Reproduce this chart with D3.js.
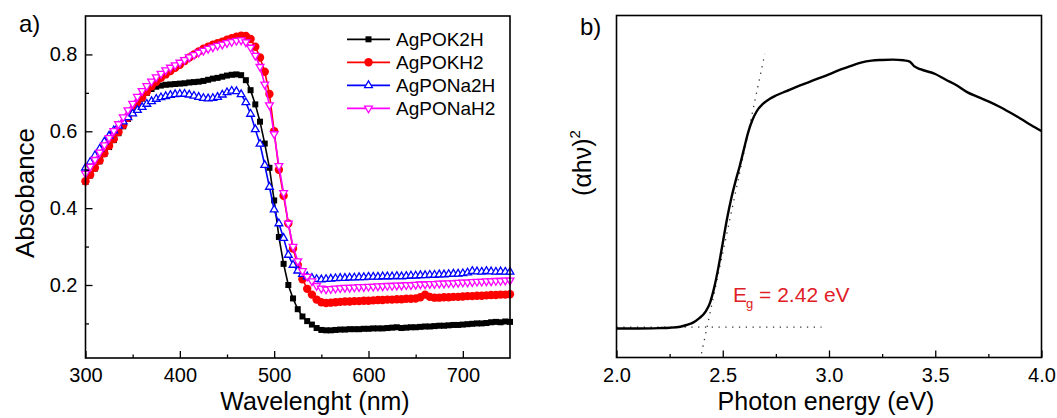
<!DOCTYPE html>
<html lang="en">
<head>
<meta charset="UTF-8">
<title>UV-vis absorbance and Tauc plot</title>
<script src="https://d3js.org/d3.v7.min.js"></script>
<style>
  body { margin: 0; background: #fff; }
  svg { display: block; font-family: "Liberation Sans", Arial, sans-serif; }
</style>
</head>
<body>
<svg width="1057" height="418"></svg>
<script>
// ---- panel a: absorbance spectra ----
const wavelength = [
  300, 305, 310, 315, 320, 325, 330, 335, 340, 345,
  350, 355, 360, 365, 370, 375, 380, 385, 390, 395,
  400, 405, 410, 415, 420, 425, 430, 435, 440, 445,
  450, 455, 460, 465, 470, 475, 480, 485, 490, 495,
  500, 505, 510, 515, 520, 525, 530, 535, 540, 545,
  550, 555, 560, 565, 570, 575, 580, 585, 590, 595,
  600, 605, 610, 615, 620, 625, 630, 635, 640, 645,
  650, 655, 660, 665, 670, 675, 680, 685, 690, 695,
  700, 705, 710, 715, 720, 725, 730, 735, 740, 745,
  750
];
const seriesNames = ['AgPOK2H', 'AgPOKH2', 'AgPONa2H', 'AgPONaH2'];
const agPOK2H = [
  0.468, 0.485, 0.503, 0.522, 0.541, 0.559, 0.577, 0.595, 0.613, 0.632,
  0.650, 0.668, 0.685, 0.700, 0.710, 0.716, 0.719, 0.721, 0.722, 0.723,
  0.724, 0.725, 0.727, 0.728, 0.729, 0.731, 0.734, 0.737, 0.739, 0.742,
  0.745, 0.747, 0.748, 0.746, 0.733, 0.707, 0.670, 0.625, 0.568, 0.505,
  0.420, 0.325, 0.255, 0.200, 0.165, 0.137, 0.118, 0.106, 0.097, 0.088,
  0.083, 0.082, 0.082, 0.083, 0.084, 0.084, 0.085, 0.085, 0.085, 0.086,
  0.086, 0.087, 0.087, 0.087, 0.088, 0.089, 0.090, 0.088, 0.089, 0.090,
  0.090, 0.091, 0.092, 0.092, 0.093, 0.094, 0.094, 0.095, 0.096, 0.096,
  0.097, 0.098, 0.099, 0.100, 0.100, 0.101, 0.103, 0.104, 0.103, 0.105,
  0.104
];
const agPOKH2 = [
  0.470, 0.487, 0.505, 0.524, 0.543, 0.562, 0.580, 0.598, 0.616, 0.635,
  0.653, 0.671, 0.688, 0.703, 0.717, 0.729, 0.739, 0.748, 0.757, 0.765,
  0.773, 0.783, 0.792, 0.800, 0.808, 0.815, 0.820, 0.825, 0.829, 0.833,
  0.838, 0.842, 0.846, 0.849, 0.848, 0.840, 0.820, 0.792, 0.755, 0.697,
  0.600, 0.500, 0.432, 0.360, 0.295, 0.252, 0.215, 0.190, 0.175, 0.162,
  0.155, 0.153, 0.154, 0.155, 0.156, 0.157, 0.157, 0.158, 0.158, 0.159,
  0.159, 0.160, 0.161, 0.161, 0.162, 0.162, 0.163, 0.163, 0.164, 0.164,
  0.165, 0.168, 0.175, 0.169, 0.167, 0.167, 0.168, 0.168, 0.169, 0.169,
  0.170, 0.171, 0.171, 0.172, 0.172, 0.173, 0.174, 0.174, 0.175, 0.175,
  0.176
];
const agPONa2H = [
  0.505, 0.520, 0.537, 0.554, 0.573, 0.588, 0.602, 0.614, 0.625, 0.636,
  0.646, 0.655, 0.663, 0.671, 0.678, 0.684, 0.688, 0.691, 0.694, 0.696,
  0.697, 0.697, 0.695, 0.692, 0.689, 0.686, 0.685, 0.686, 0.689, 0.695,
  0.701, 0.705, 0.704, 0.696, 0.675, 0.645, 0.605, 0.567, 0.512, 0.455,
  0.396, 0.360, 0.322, 0.278, 0.252, 0.237, 0.228, 0.222, 0.218, 0.215,
  0.214, 0.215, 0.216, 0.217, 0.218, 0.218, 0.219, 0.219, 0.220, 0.220,
  0.221, 0.221, 0.221, 0.222, 0.222, 0.222, 0.223, 0.222, 0.223, 0.224,
  0.224, 0.225, 0.225, 0.226, 0.226, 0.227, 0.227, 0.228, 0.229, 0.229,
  0.230, 0.232, 0.236, 0.235, 0.234, 0.236, 0.235, 0.234, 0.235, 0.234,
  0.234
];
const agPONaH2 = [
  0.490, 0.508, 0.526, 0.545, 0.564, 0.583, 0.601, 0.619, 0.637, 0.655,
  0.672, 0.690, 0.705, 0.718, 0.730, 0.741, 0.750, 0.759, 0.766, 0.772,
  0.779, 0.786, 0.793, 0.799, 0.805, 0.810, 0.815, 0.819, 0.823, 0.826,
  0.830, 0.833, 0.836, 0.837, 0.832, 0.818, 0.797, 0.768, 0.722, 0.668,
  0.593, 0.510, 0.440, 0.360, 0.300, 0.262, 0.237, 0.222, 0.210, 0.198,
  0.191, 0.189, 0.190, 0.191, 0.192, 0.193, 0.193, 0.194, 0.195, 0.195,
  0.196, 0.196, 0.197, 0.197, 0.198, 0.198, 0.199, 0.199, 0.200, 0.200,
  0.201, 0.202, 0.202, 0.203, 0.203, 0.204, 0.204, 0.205, 0.205, 0.206,
  0.207, 0.207, 0.208, 0.209, 0.209, 0.210, 0.210, 0.211, 0.211, 0.212,
  0.212
];
const xTicksA = [300, 400, 500, 600, 700];
const xMinorA = [350, 450, 550, 650];
const yTicksA = [0.2, 0.4, 0.6, 0.8];
const yMinorA = [0.1, 0.3, 0.5, 0.7];

// ---- panel b: Tauc plot ----
const photonEnergy = [
  2.00, 2.10, 2.20, 2.25, 2.30, 2.33, 2.36, 2.39, 2.42, 2.44,
  2.46, 2.48, 2.50, 2.52, 2.54, 2.56, 2.58, 2.60, 2.62, 2.64,
  2.66, 2.69, 2.72, 2.75, 2.80, 2.85, 2.90, 2.95, 3.00, 3.05,
  3.10, 3.15, 3.20, 3.25, 3.30, 3.35, 3.38, 3.40, 3.43, 3.50,
  3.55, 3.60, 3.65, 3.70, 3.75, 3.80, 3.85, 3.90, 3.95, 4.00
];
const ahv2 = [
  8.5, 8.5, 8.6, 8.7, 9.0, 9.5, 10.2, 11.5, 13.5, 16.0,
  20.5, 26.5, 33.5, 40.5, 46.5, 51.5, 56.0, 61.0, 65.9, 69.5,
  72.0, 74.2, 75.6, 76.6, 77.9, 79.2, 80.4, 81.6, 82.8, 84.1,
  85.2, 86.2, 86.8, 87.0, 87.1, 86.9, 86.5, 85.2, 84.3, 82.9,
  81.2, 79.6, 77.6, 76.2, 74.9, 73.4, 71.7, 69.9, 68.0, 66.2
];
const tangentX = [2.40, 2.698];
const tangentY = [1.2, 88.8];
const baseX = [2.0, 2.965];
const baseY = [8.9, 8.9];
const xTicksB = [2.0, 2.5, 3.0, 3.5, 4.0];
const xMinorB = [2.25, 2.75, 3.25, 3.75];

const svg = d3.select('svg');

function frameAxes(g, x, y, xt, xm, yt, ym, xfmt) {
  const [x0, x1] = x.range(), [y0, y1] = y.range();
  g.append('g').attr('transform', `translate(0,${y0})`)
    .call(d3.axisBottom(x).tickValues(xt).tickSizeInner(-7).tickSizeOuter(0).tickPadding(10).tickFormat(xfmt))
    .call(a => a.select('.domain').remove())
    .call(a => a.selectAll('text').attr('font-size', 20).attr('font-family', null).attr('fill', '#000'))
    .call(a => a.selectAll('line').attr('stroke', '#000').attr('stroke-width', 1.3));
  g.append('g').attr('transform', `translate(0,${y0})`)
    .call(d3.axisBottom(x).tickValues(xm).tickSizeInner(-3.5).tickSizeOuter(0).tickFormat(''))
    .call(a => a.select('.domain').remove())
    .call(a => a.selectAll('line').attr('stroke', '#000').attr('stroke-width', 1.3));
  if (yt) {
    g.append('g').attr('transform', `translate(${x0},0)`)
      .call(d3.axisLeft(y).tickValues(yt).tickSizeInner(-7).tickSizeOuter(0).tickPadding(8).tickFormat(d3.format('.1f')))
      .call(a => a.select('.domain').remove())
      .call(a => a.selectAll('text').attr('font-size', 20).attr('font-family', null).attr('fill', '#000'))
      .call(a => a.selectAll('line').attr('stroke', '#000').attr('stroke-width', 1.3));
    g.append('g').attr('transform', `translate(${x0},0)`)
      .call(d3.axisLeft(y).tickValues(ym).tickSizeInner(-3.5).tickSizeOuter(0).tickFormat(''))
      .call(a => a.select('.domain').remove())
      .call(a => a.selectAll('line').attr('stroke', '#000').attr('stroke-width', 1.3));
  }
  g.append('rect').attr('x', x0).attr('y', y1).attr('width', x1 - x0).attr('height', y0 - y1)
    .attr('fill', 'none').attr('stroke', '#000').attr('stroke-width', 1.6);
}

// ---------- panel a ----------
const xA = d3.scaleLinear().domain([300, 750]).range([85.5, 510]);
const yA = d3.scaleLinear().domain([0.01, 0.9]).range([358, 16]);
const gA = svg.append('g');

const styles = [
  { color: '#000000', marker: 'square' },
  { color: '#ff0000', marker: 'circle' },
  { color: '#0000ff', marker: 'up' },
  { color: '#ff00ff', marker: 'down' }
];
const seriesValues = [agPOK2H, agPOKH2, agPONa2H, agPONaH2];
const series = seriesNames.map((name, i) => ({
  name, style: styles[i],
  points: wavelength.map((w, j) => ({ x: w, y: seriesValues[i][j] }))
}));

function drawMarker(sel, st) {
  if (st.marker === 'square') {
    sel.append('rect').attr('x', -3).attr('y', -3).attr('width', 6).attr('height', 6).attr('fill', st.color);
  } else if (st.marker === 'circle') {
    sel.append('circle').attr('r', 4.2).attr('fill', st.color);
  } else {
    sel.append('path').attr('d', d3.symbol(d3.symbolTriangle, 26)())
      .attr('transform', st.marker === 'down' ? 'rotate(180)' : null)
      .attr('fill', '#fff').attr('stroke', st.color).attr('stroke-width', 1.3);
  }
}

const line = d3.line().x(d => xA(d.x)).y(d => yA(d.y));
series.forEach(s => {
  const sg = gA.append('g');
  sg.append('path').attr('d', line(s.points)).attr('fill', 'none')
    .attr('stroke', s.style.color).attr('stroke-width', 1.6);
  sg.selectAll('g.m').data(s.points).enter().append('g')
    .attr('transform', d => `translate(${xA(d.x)},${yA(d.y)})`)
    .each(function () { drawMarker(d3.select(this), s.style); });
});

frameAxes(gA, xA, yA, xTicksA, xMinorA, yTicksA, yMinorA, d3.format('d'));

// legend
const legend = gA.append('g');
series.forEach((s, i) => {
  const ly = 39.3 + i * 23;
  legend.append('line').attr('x1', 347).attr('x2', 390).attr('y1', ly).attr('y2', ly)
    .attr('stroke', s.style.color).attr('stroke-width', 1.8);
  drawMarker(legend.append('g').attr('transform', `translate(368.5,${ly})`), s.style);
  legend.append('text').attr('x', 396).attr('y', ly + 7).attr('font-size', 19).text(s.name);
});

gA.append('text').attr('x', 19).attr('y', 32).attr('font-size', 24).text('a)');
gA.append('text').attr('transform', 'translate(34,193) rotate(-90)')
  .attr('text-anchor', 'middle').attr('font-size', 26).text('Absobance');
gA.append('text').attr('x', 315).attr('y', 410).attr('text-anchor', 'middle')
  .attr('font-size', 25).text('Wavelenght (nm)');

// ---------- panel b ----------
const xB = d3.scaleLinear().domain([2.0, 4.0]).range([616.5, 1041.5]);
const yB = d3.scaleLinear().domain([0, 100]).range([357.5, 15.5]);
const gB = svg.append('g');

const dotted = d3.line().x(d => xB(d[0])).y(d => yB(d[1]));
gB.append('path').attr('d', dotted(d3.zip(tangentX, tangentY)))
  .attr('fill', 'none').attr('stroke', '#333').attr('stroke-width', 1.3).attr('stroke-dasharray', '1.3 5.5');
gB.append('path').attr('d', dotted(d3.zip(baseX, baseY)))
  .attr('fill', 'none').attr('stroke', '#333').attr('stroke-width', 1.3).attr('stroke-dasharray', '1.3 5.5');

const tauc = d3.line().x(d => xB(d[0])).y(d => yB(d[1])).curve(d3.curveMonotoneX);
gB.append('path').attr('d', tauc(d3.zip(photonEnergy, ahv2)))
  .attr('fill', 'none').attr('stroke', '#000').attr('stroke-width', 2.4);

frameAxes(gB, xB, yB, xTicksB, xMinorB, null, null, d3.format('.1f'));

const eg = gB.append('text').attr('x', 733).attr('y', 301.7).attr('font-size', 21).attr('fill', '#e02027');
eg.append('tspan').text('E');
eg.append('tspan').attr('font-size', 13).attr('dy', 6).attr('dx', -1).text('g');
eg.append('tspan').attr('dy', -6).text(' = 2.42 eV');

gB.append('text').attr('x', 580).attr('y', 35).attr('font-size', 24).text('b)');
const yl = gB.append('text').attr('transform', 'translate(591,163) rotate(-90)')
  .attr('text-anchor', 'middle').attr('font-size', 25);
yl.append('tspan').text('(αhν)');
yl.append('tspan').attr('font-size', 15).attr('dy', -11).text('2');
gB.append('text').attr('x', 826).attr('y', 410).attr('text-anchor', 'middle')
  .attr('font-size', 25).text('Photon energy (eV)');
</script>
</body>
</html>
